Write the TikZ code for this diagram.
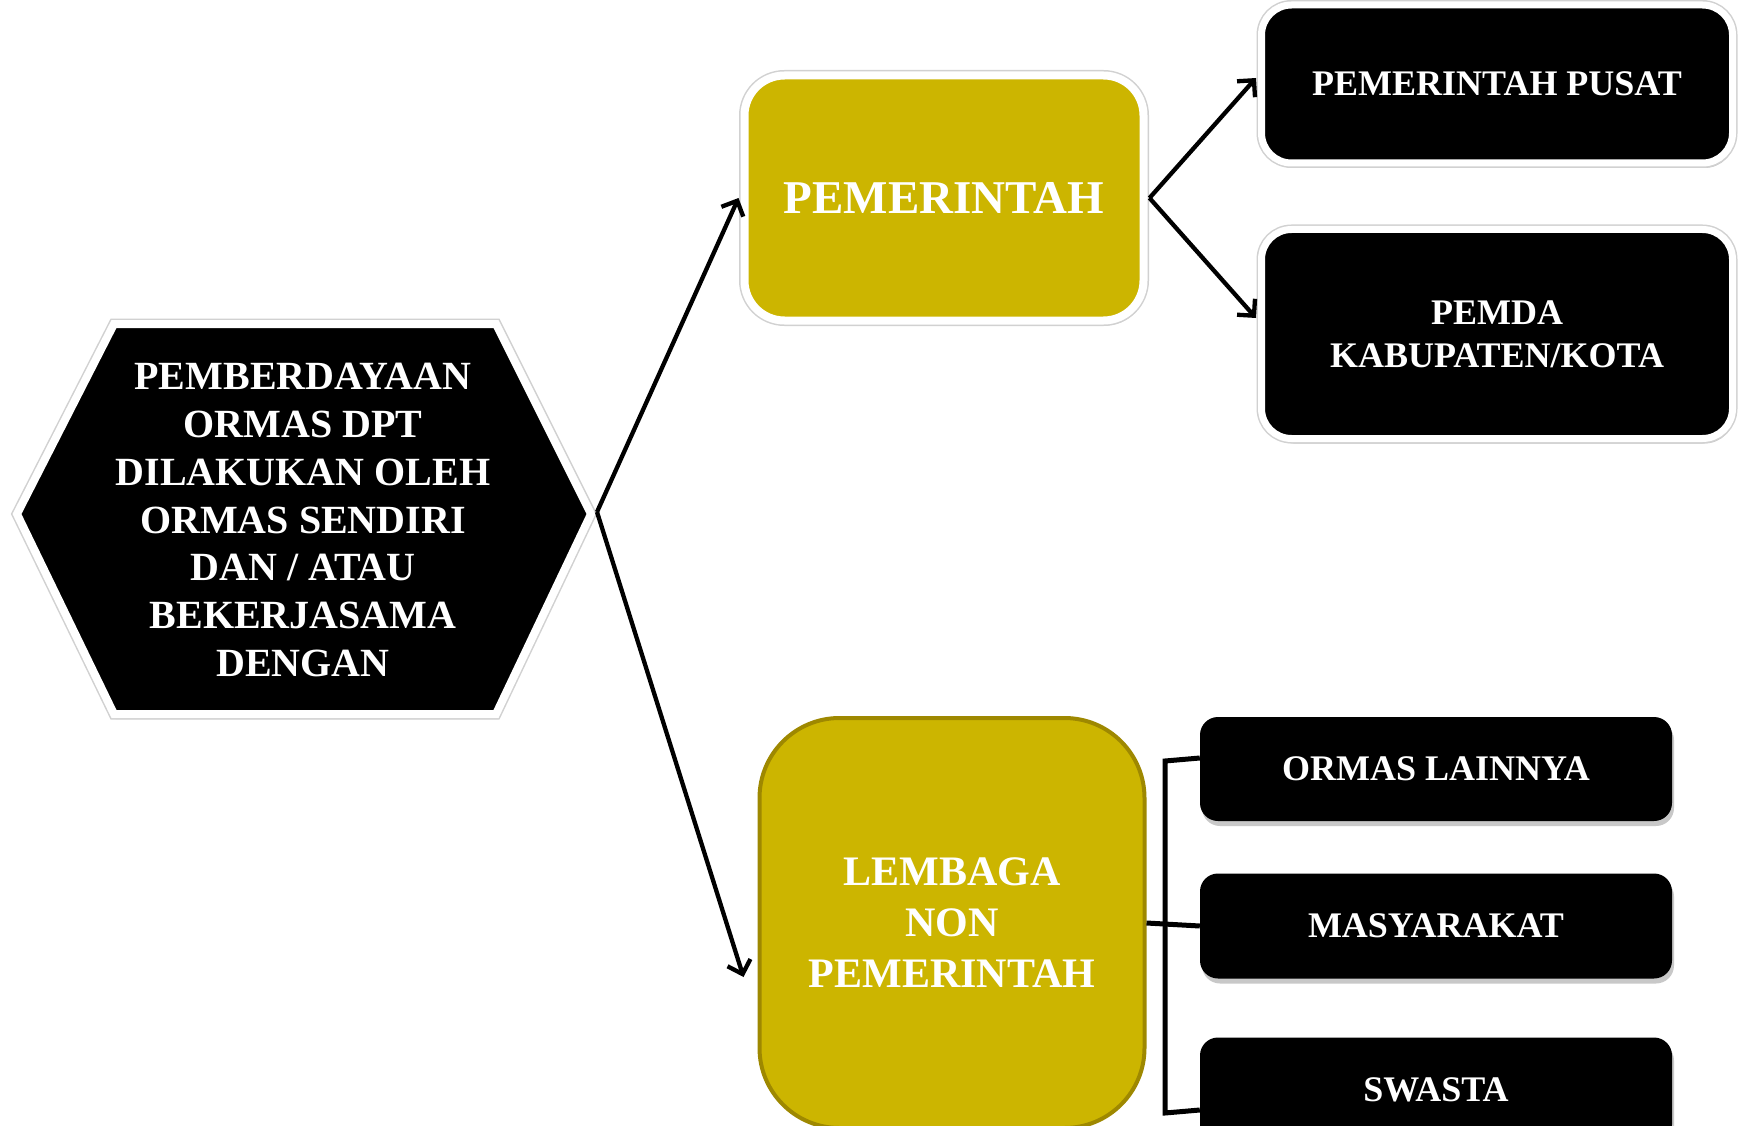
\documentclass[tikz,border=0pt]{standalone}
\usepackage{fontspec}
\setmainfont{Liberation Serif}
\usetikzlibrary{arrows.meta,shadows,calc}
\definecolor{gold}{RGB}{204,181,0}
\definecolor{golddark}{RGB}{158,136,0}
\begin{document}
\begin{tikzpicture}[x=1pt,y=-1pt,
  shd/.style={drop shadow={shadow xshift=2pt,shadow yshift=-5pt,opacity=0.3,fill=black!70}},
  halo/.style={preaction={draw=black!18, line width=#1}},
  goldbox/.style={fill=gold, draw=white, line width=8pt, rounded corners=40pt, text=white,
    font=\bfseries\fontsize{47}{54}\selectfont, align=center, inner sep=0pt, shd, halo=11pt},
  blackbox/.style={fill=black, draw=white, line width=7pt, rounded corners=30pt, text=white,
    font=\bfseries\fontsize{36}{43}\selectfont, align=center, inner sep=0pt, shd, halo=10pt},
  smallbox/.style={fill=black, draw=none, rounded corners=18pt, text=white,
    font=\bfseries\fontsize{36}{43}\selectfont, align=center, inner sep=0pt, shd},
  arr/.style={draw=black, line width=4.3pt, -{Straight Barb[length=12pt,width=24pt,line width=4.3pt]}},
  brk/.style={draw=black, line width=5pt}
]
\clip (0,0) rectangle (1740,1126);
\fill[white] (0,0) rectangle (1740,1126);

% hexagon
\draw[draw=white, line width=8pt, fill=black, line join=miter, shd, halo=11pt]
  (114,324) -- (496,324) -- (591,514) -- (496,714) -- (114,714) -- (17,514) -- cycle;
\node[text=white, font=\bfseries\fontsize{40}{47.7}\selectfont, align=center, inner sep=0pt] (hex) at (303,520)
  {PEMBERDAYAAN\\ORMAS DPT\\DILAKUKAN OLEH\\ORMAS SENDIRI\\DAN / ATAU\\BEKERJASAMA\\DENGAN};
\coordinate (hexR) at (597,512);

% government
\node[goldbox, minimum width=399pt, minimum height=245pt] (pem) at (944,198) {PEMERINTAH};
\node[blackbox, minimum width=471pt, minimum height=158pt] (pusat) at (1497,84) {PEMERINTAH PUSAT};
\node[blackbox, minimum width=471pt, minimum height=209pt] (pemda) at (1497,334) {PEMDA\\KABUPATEN/KOTA};

% non government
\node[fill=gold, draw=golddark, line width=4pt, rounded corners=80pt, text=white,
  font=\bfseries\fontsize{42}{51}\selectfont, align=center, inner sep=0pt,
  minimum width=385pt, minimum height=410pt] (lem) at (952,923) {LEMBAGA\\NON\\PEMERINTAH};
\node[smallbox, minimum width=472pt, minimum height=104pt] (orm) at (1436,769) {ORMAS LAINNYA};
\node[smallbox, minimum width=472pt, minimum height=105pt] (mas) at (1436,926) {MASYARAKAT};
\node[smallbox, minimum width=472pt, minimum height=105pt] (swa) at (1436,1090) {SWASTA};

% connectors
\draw[arr] (hexR) -- ($(pem.west)+(-2,0)$);
\draw[arr] (hexR) -- ($(lem.west)+(-14,54)$);
\draw[arr] ($(pem.east)+(2,0)$) -- ($(pusat.west)+(-2,-6)$);
\draw[arr] ($(pem.east)+(2,0)$) -- ($(pemda.west)+(-2,-16)$);

\coordinate (bt) at (1165,761);
\coordinate (bb) at (1165,1113);
\draw[brk] ($(orm.west)+(0,-11)$) -- (bt) -- (bb) -- ($(swa.west)+(0,20)$);
\draw[brk] (lem.east) -- (mas.west);
\end{tikzpicture}
\end{document}
